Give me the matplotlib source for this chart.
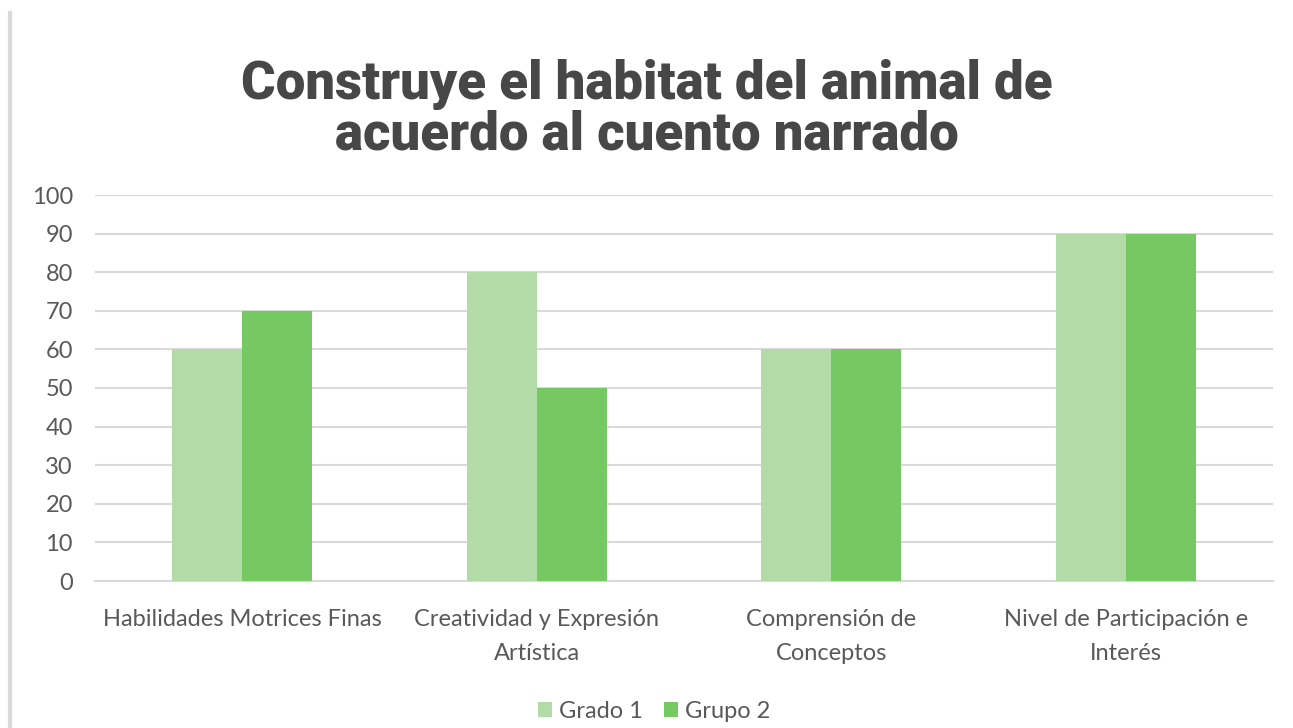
import matplotlib
matplotlib.use("Agg")
import matplotlib.pyplot as plt
from matplotlib.lines import Line2D
import numpy as np

categories = [
    "Habilidades Motrices Finas",
    "Creatividad y Expresión\nArtística",
    "Comprensión de\nConceptos",
    "Nivel de Participación e\nInterés",
]
series_names = ["Grado 1", "Grupo 2"]
grado_1 = [60, 80, 60, 90]
grupo_2 = [70, 50, 60, 90]
y_ticks = list(range(0, 101, 10))

light_green = "#b3dba8"
dark_green = "#76c863"
text_gray = "#595959"
grid_gray = "#d9d9d9"
label_font = "Lato"

W, H = 1293, 728
fig = plt.figure(figsize=(W / 100, H / 100), dpi=100)
fig.patch.set_facecolor("white")

ax = fig.add_axes([95 / W, 1 - 581 / H, (1273 - 95) / W, (581 - 195) / H])

x = np.arange(len(categories))
bw = 0.237
ax.bar(x - bw / 2, grado_1, width=bw, color=light_green, label=series_names[0], zorder=3)
ax.bar(x + bw / 2, grupo_2, width=bw, color=dark_green, label=series_names[1], zorder=3)

ax.set_xlim(-0.5, len(categories) - 0.5)
ax.set_ylim(0, 100)
ax.set_yticks(y_ticks)
ax.set_xticks(x)
ax.set_xticklabels(categories, linespacing=1.75)
ax.grid(axis="y", color=grid_gray, linewidth=1.5, zorder=0)
for s in ["top", "right", "left"]:
    ax.spines[s].set_visible(False)
ax.spines["bottom"].set_color(grid_gray)
ax.spines["bottom"].set_linewidth(1.5)
ax.tick_params(axis="both", length=0, labelsize=17, labelcolor=text_gray)
ax.tick_params(axis="x", pad=20)
ax.tick_params(axis="y", pad=16)
for lab in ax.get_xticklabels() + ax.get_yticklabels():
    lab.set_fontfamily(label_font)

title_kw = dict(ha="center", va="center", fontsize=38, fontweight=900,
                family="Roboto", color="#474747")
fig.text(0.5, 1 - 85 / H, "Construye el habitat del animal de", **title_kw)
fig.text(0.5, 1 - 135 / H, "acuerdo al cuento narrado", **title_kw)

leg = fig.legend(loc="center", bbox_to_anchor=(654 / W, 1 - 711 / H), ncol=2, frameon=False,
                 handlelength=0.6, handleheight=0.6, handletextpad=0.3, columnspacing=0.9,
                 prop={"family": label_font, "size": 17})
for t in leg.get_texts():
    t.set_color(text_gray)

fig.add_artist(Line2D([10 / W, 10 / W], [0, 1 - 13 / H], transform=fig.transFigure,
                      color="#d9d9d9", linewidth=3))

fig.savefig("out.png", dpi=100, facecolor="white")
